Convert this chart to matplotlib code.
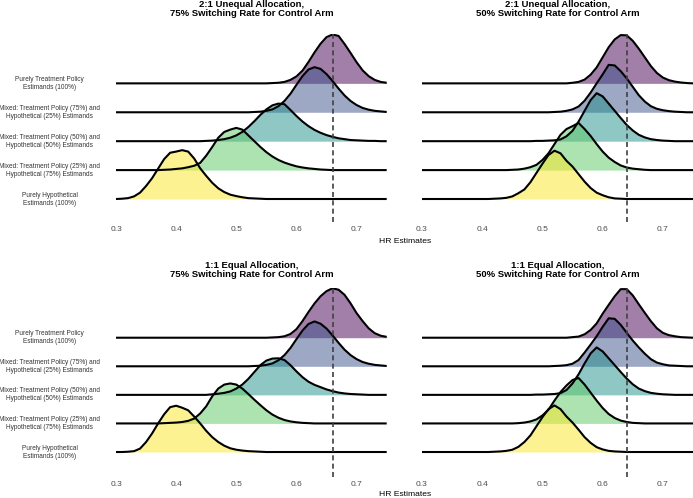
import numpy as np
import matplotlib
matplotlib.use("Agg")
import matplotlib.pyplot as plt

plt.rcParams["font.family"] = ["Liberation Sans", "DejaVu Sans"]

# HR grid on which the ridge heights were read (0.30 ... 0.75)
hr_grid = [0.30, 0.31, 0.32, 0.33, 0.34, 0.35, 0.36, 0.37, 0.38, 0.39,
           0.40, 0.41, 0.42, 0.43, 0.44, 0.45, 0.46, 0.47, 0.48, 0.49,
           0.50, 0.51, 0.52, 0.53, 0.54, 0.55, 0.56, 0.57, 0.58, 0.59,
           0.60, 0.61, 0.62, 0.63, 0.64, 0.65, 0.66, 0.67, 0.68, 0.69,
           0.70, 0.71, 0.72, 0.73, 0.74, 0.75]

estimands = ["Purely Treatment Policy\nEstimands (100%)",
             "Mixed: Treatment Policy (75%) and\nHypothetical (25%) Estimands",
             "Mixed: Treatment Policy (50%) and\nHypothetical (50%) Estimands",
             "Mixed: Treatment Policy (25%) and\nHypothetical (75%) Estimands",
             "Purely Hypothetical\nEstimands (100%)"]
colors = ["#440154", "#3B528B", "#21908C", "#5DC863", "#FDE725"]

titles = ["2:1 Unequal Allocation,\n75% Switching Rate for Control Arm",
          "2:1 Unequal Allocation,\n50% Switching Rate for Control Arm",
          "1:1 Equal Allocation,\n75% Switching Rate for Control Arm",
          "1:1 Equal Allocation,\n50% Switching Rate for Control Arm"]
true_hr = [0.66, 0.64, 0.66, 0.64]

z10 = [0] * 10

# ridge heights (in row units), one list per estimand, top row first
dens_21_75 = [
    z10 + z10 + [0, 0, 0, 0, 0, 0, 0.01, 0.02, 0.05, 0.12]
    + [0.24, 0.44, 0.74, 1.07, 1.37, 1.60, 1.69, 1.64, 1.36, 1.05]
    + [0.73, 0.45, 0.25, 0.12, 0.05, 0.02],
    z10 + z10 + [0, 0, 0, 0.01, 0.02, 0.05, 0.10, 0.21, 0.39, 0.64]
    + [0.95, 1.25, 1.48, 1.56, 1.50, 1.32, 1.08, 0.82, 0.58, 0.39]
    + [0.25, 0.15, 0.09, 0.05, 0.03, 0.01],
    z10 + [0, 0, 0, 0, 0, 0.01, 0.02, 0.04, 0.07, 0.12]
    + [0.20, 0.32, 0.49, 0.69, 0.91, 1.10, 1.24, 1.30, 1.28, 1.08]
    + [0.87, 0.68, 0.52, 0.39, 0.29, 0.21, 0.15, 0.10, 0.07, 0.04]
    + [0.03, 0.02, 0.01, 0.01, 0, 0],
    [0, 0, 0, 0, 0, 0, 0, 0, 0.01, 0.02]
    + [0.04, 0.06, 0.10, 0.15, 0.25, 0.50, 0.80, 1.12, 1.32, 1.40]
    + [1.46, 1.40, 1.20, 1.00, 0.80, 0.62, 0.47, 0.35, 0.26, 0.19]
    + [0.13, 0.09, 0.06, 0.04, 0.02, 0.01, 0, 0, 0, 0]
    + [0, 0, 0, 0, 0, 0],
    [0, 0.01, 0.03, 0.09, 0.22, 0.45, 0.72, 1.05, 1.38, 1.60]
    + [1.64, 1.69, 1.64, 1.40, 1.06, 0.80, 0.56, 0.37, 0.24, 0.15]
    + [0.10, 0.06, 0.03, 0.02, 0.01, 0, 0, 0, 0, 0]
    + z10 + [0, 0, 0, 0, 0, 0],
]

dens_21_50 = [
    z10 + z10 + [0, 0, 0, 0, 0, 0.02, 0.05, 0.13, 0.30, 0.55]
    + [0.90, 1.25, 1.52, 1.67, 1.66, 1.47, 1.20, 0.90, 0.60, 0.36]
    + [0.20, 0.11, 0.06, 0.03, 0.01, 0],
    z10 + z10 + [0, 0, 0.01, 0.02, 0.05, 0.10, 0.20, 0.40, 0.68, 1.00]
    + [1.31, 1.64, 1.62, 1.42, 1.17, 0.88, 0.59, 0.37, 0.21, 0.12]
    + [0.07, 0.04, 0.02, 0.01, 0, 0],
    z10 + [0, 0, 0, 0, 0, 0, 0, 0, 0, 0.01]
    + [0.01, 0.02, 0.03, 0.06, 0.17, 0.36, 0.68, 1.05, 1.42, 1.66]
    + [1.55, 1.30, 1.05, 0.80, 0.56, 0.37, 0.22, 0.13, 0.07, 0.04]
    + [0.02, 0.01, 0, 0, 0, 0],
    z10 + [0, 0, 0, 0, 0, 0.01, 0.02, 0.05, 0.10, 0.18]
    + [0.35, 0.58, 0.90, 1.22, 1.42, 1.52, 1.63, 1.42, 1.18, 0.90]
    + [0.64, 0.43, 0.28, 0.16, 0.09, 0.05, 0.03, 0.01, 0, 0]
    + [0, 0, 0, 0, 0, 0],
    z10 + [0, 0, 0.01, 0.02, 0.04, 0.09, 0.20, 0.33, 0.58, 0.90]
    + [1.22, 1.52, 1.67, 1.58, 1.32, 1.12, 0.86, 0.60, 0.38, 0.22]
    + [0.13, 0.06, 0.02, 0.01, 0, 0, 0, 0, 0, 0]
    + [0, 0, 0, 0, 0, 0],
]

dens_11_75 = [
    z10 + z10 + [0, 0, 0, 0, 0, 0, 0.01, 0.02, 0.05, 0.13]
    + [0.30, 0.58, 0.90, 1.20, 1.45, 1.63, 1.73, 1.68, 1.50, 1.20]
    + [0.86, 0.58, 0.33, 0.16, 0.07, 0.03],
    z10 + z10 + [0, 0, 0, 0.01, 0.02, 0.05, 0.10, 0.21, 0.39, 0.64]
    + [0.95, 1.25, 1.48, 1.57, 1.49, 1.32, 1.08, 0.82, 0.58, 0.39]
    + [0.25, 0.15, 0.09, 0.05, 0.03, 0.01],
    z10 + [0, 0, 0, 0, 0, 0, 0.02, 0.04, 0.07, 0.12]
    + [0.22, 0.36, 0.56, 0.80, 1.04, 1.20, 1.27, 1.28, 1.22, 1.04]
    + [0.82, 0.62, 0.46, 0.35, 0.27, 0.19, 0.13, 0.08, 0.05, 0.03]
    + [0.02, 0.01, 0, 0, 0, 0],
    [0, 0, 0, 0, 0, 0, 0, 0, 0.01, 0.02]
    + [0.03, 0.05, 0.09, 0.17, 0.35, 0.60, 0.95, 1.22, 1.36, 1.40]
    + [1.36, 1.22, 1.03, 0.83, 0.64, 0.46, 0.31, 0.20, 0.12, 0.07]
    + [0.04, 0.02, 0.01, 0, 0, 0, 0, 0, 0, 0]
    + [0, 0, 0, 0, 0, 0],
    [0, 0, 0.01, 0.03, 0.12, 0.35, 0.65, 1.00, 1.32, 1.57]
    + [1.62, 1.55, 1.46, 1.24, 1.00, 0.74, 0.52, 0.35, 0.22, 0.13]
    + [0.08, 0.05, 0.03, 0.02, 0.01, 0, 0, 0, 0, 0]
    + z10 + [0, 0, 0, 0, 0, 0],
]

dens_11_50 = [
    z10 + z10 + [0, 0, 0, 0, 0, 0.02, 0.04, 0.12, 0.27, 0.50]
    + [0.84, 1.15, 1.45, 1.70, 1.70, 1.48, 1.17, 0.87, 0.58, 0.33]
    + [0.17, 0.09, 0.05, 0.02, 0.01, 0],
    z10 + z10 + [0, 0, 0.01, 0.02, 0.04, 0.09, 0.22, 0.48, 0.76, 1.05]
    + [1.38, 1.68, 1.66, 1.45, 1.17, 0.90, 0.66, 0.44, 0.25, 0.13]
    + [0.07, 0.03, 0.02, 0.01, 0, 0],
    z10 + [0, 0, 0, 0, 0, 0, 0, 0, 0, 0.01]
    + [0.01, 0.02, 0.03, 0.06, 0.17, 0.40, 0.72, 1.10, 1.45, 1.66]
    + [1.52, 1.28, 1.04, 0.80, 0.57, 0.37, 0.22, 0.13, 0.07, 0.04]
    + [0.02, 0.01, 0, 0, 0, 0],
    z10 + [0, 0, 0, 0, 0, 0, 0.01, 0.03, 0.07, 0.14]
    + [0.28, 0.48, 0.80, 1.10, 1.33, 1.52, 1.59, 1.36, 1.08, 0.80]
    + [0.54, 0.33, 0.19, 0.10, 0.05, 0.02, 0.01, 0, 0, 0]
    + [0, 0, 0, 0, 0, 0],
    z10 + [0, 0, 0.01, 0.02, 0.04, 0.08, 0.18, 0.35, 0.58, 0.90]
    + [1.22, 1.50, 1.63, 1.50, 1.24, 1.03, 0.78, 0.52, 0.32, 0.17]
    + [0.09, 0.04, 0.02, 0.01, 0, 0, 0, 0, 0, 0]
    + [0, 0, 0, 0, 0, 0],
]

panels = [dens_21_75, dens_21_50, dens_11_75, dens_11_50]

W, H = 693, 498
fig = plt.figure(figsize=(W / 100, H / 100), dpi=100)

# axes boxes in pixels: left, top, right, bottom
boxes = [(116, 34.5, 386.7, 221.7), (422, 34.5, 693, 221.7),
         (116, 288, 386.7, 476.7), (422, 288, 693, 476.7)]
ylims = [(-0.785, 5.69), (-0.785, 5.69), (-0.864, 5.74), (-0.864, 5.74)]
title_y = [9.2, 9.2, 270, 270]

x = np.array(hr_grid)
for p, dens in enumerate(panels):
    l, t, r, b = boxes[p]
    ax = fig.add_axes([l / W, 1 - b / H, (r - l) / W, (b - t) / H])
    for i, d in enumerate(dens):
        base = 4 - i
        top = base + np.array(d)
        ax.fill_between(x, base, top, color=colors[i], alpha=0.5, lw=0)
        ax.plot(x, top, color="black", lw=1.5, solid_capstyle="butt")
        if p % 2 == 0:
            ax.text(-0.2457, base, estimands[i], transform=ax.get_yaxis_transform(),
                    ha="center", va="center", fontsize=4.7, color="#333333",
                    linespacing=1.2)
    ax.axvline(true_hr[p], color="#404040", lw=1.2, ls=(0, (3, 2)), zorder=10)
    ax.set_xlim(0.3, 0.75)
    ax.set_ylim(*ylims[p])
    ax.set_xticks([0.3, 0.4, 0.5, 0.6, 0.7])
    ax.set_xticklabels(["0.3", "0.4", "0.5", "0.6", "0.7"])
    ax.set_yticks([])
    ax.tick_params(axis="x", length=0, pad=3.2, labelsize=6, labelcolor="#4d4d4d")
    for s in ax.spines.values():
        s.set_visible(False)
    ax.patch.set_alpha(0)
    fig.text((l + r) / 2 / W, 1 - title_y[p] / H, titles[p], ha="center", va="center",
             fontsize=6.8, fontweight="bold", linespacing=1.05)

fig.text(405 / W, 1 - 241 / H, "HR Estimates", ha="center", va="center", fontsize=6.1)
fig.text(405 / W, 1 - 494 / H, "HR Estimates", ha="center", va="center", fontsize=6.1)

fig.savefig("out.png", dpi=100)
